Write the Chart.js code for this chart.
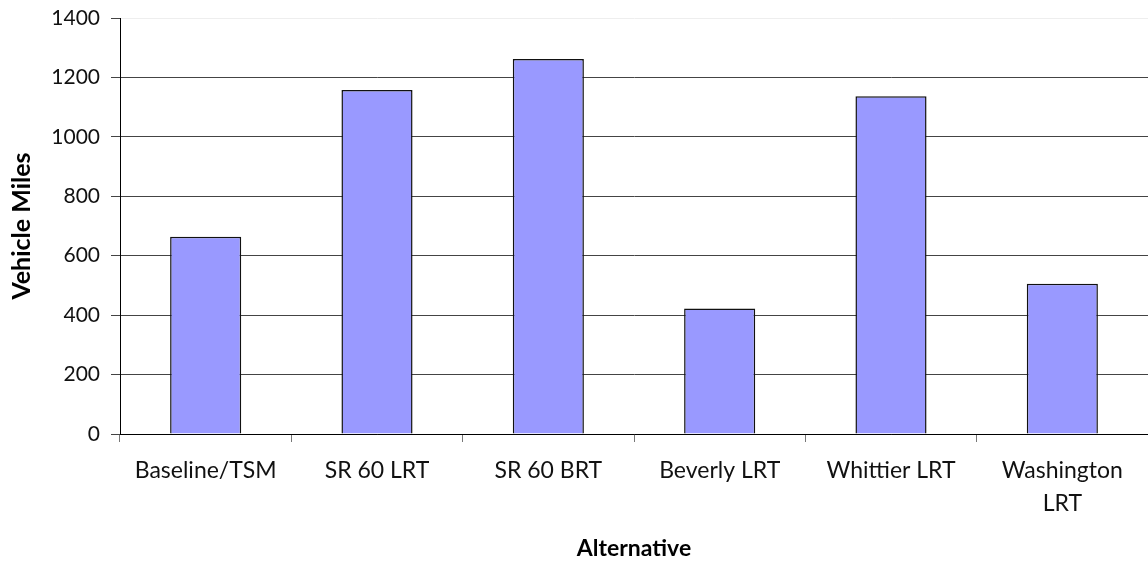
<!DOCTYPE html>
<html>
<head>
<meta charset="utf-8">
<script src="https://cdn.jsdelivr.net/npm/chart.js@4/dist/chart.umd.min.js"></script>
<style>
  html, body { margin: 0; padding: 0; background: #fff; }
  #wrap { width: 1148px; height: 564px; }
</style>
</head>
<body>
<div id="wrap"><canvas id="vmChart" width="1148" height="564"></canvas></div>
<script>
// values
const alternatives = ["Baseline/TSM", "SR 60 LRT", "SR 60 BRT", "Beverly LRT", "Whittier LRT", ["Washington", "LRT"]];
const vehicleMiles = [664, 1158, 1262, 422, 1137, 506];
const yTicks = [0, 200, 400, 600, 800, 1000, 1200, 1400];

const FONT = "Lato, 'Open Sans', sans-serif";

document.addEventListener("DOMContentLoaded", () => {
  const ctx = document.getElementById("vmChart").getContext("2d");
  new Chart(ctx, {
    type: "bar",
    data: {
      labels: alternatives,
      datasets: [{
        label: "Vehicle Miles",
        data: vehicleMiles,
        backgroundColor: "#9999ff",
        borderColor: "#111",
        borderWidth: 1.5,
        barPercentage: 0.415,
        categoryPercentage: 1
      }]
    },
    options: {
      responsive: false,
      animation: false,
      layout: { padding: { top: 18, right: 0, left: 0, bottom: 0 } },
      plugins: {
        legend: { display: false },
        tooltip: { enabled: false }
      },
      scales: {
        x: {
          afterFit: s => { s.height = 130; },
          border: { color: "#000", width: 1 },
          grid: {
            offset: true,
            drawOnChartArea: false,
            tickLength: 8,
            color: "#777"
          },
          ticks: {
            color: "#111",
            font: { family: FONT, size: 23, lineHeight: 1.45 },
            padding: 12,
            maxRotation: 0,
            autoSkip: false
          },
          title: {
            display: true,
            text: "Alternative",
            color: "#000",
            font: { family: FONT, size: 23, weight: "bold" },
            padding: { top: 0, bottom: 2 }
          }
        },
        y: {
          min: 0,
          max: 1400,
          afterFit: s => { s.width = 120; s.paddingTop = 0; s.paddingBottom = 0; },
          afterBuildTicks: s => { s.ticks = yTicks.map(v => ({ value: v })); },
          border: { color: "#000", width: 1 },
          grid: {
            color: c => (c.tick && c.tick.value === 1400 ? "#eee" : "#444"),
            lineWidth: 1,
            tickLength: 9,
            tickColor: "#444"
          },
          ticks: {
            color: "#111",
            font: { family: FONT, size: 21 },
            padding: 11,
            callback: v => String(v)
          },
          title: {
            display: true,
            text: "Vehicle Miles",
            color: "#000",
            font: { family: FONT, size: 25, weight: "bold" },
            padding: { top: 7, bottom: 0 }
          }
        }
      }
    }
  });
});
</script>
</body>
</html>
